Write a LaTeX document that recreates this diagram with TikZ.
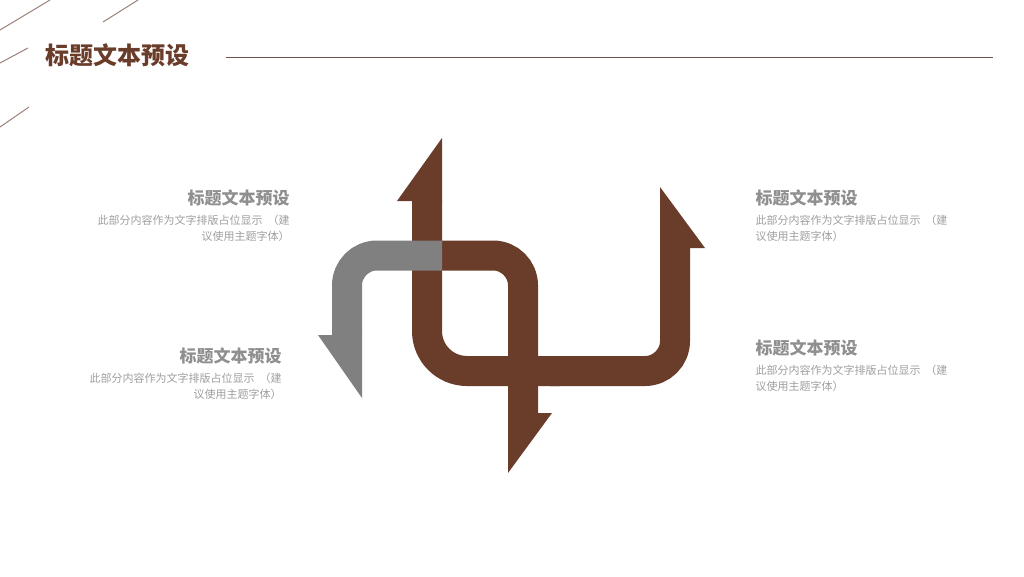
\documentclass[tikz,border=0pt]{standalone}
\usepackage{fontspec}
\setmainfont{Noto Sans CJK SC}
\newlength{\du}
\setlength{\du}{1\unitlength}
\definecolor{headgray}{rgb}{0.560000, 0.560000, 0.560000}
\definecolor{bodygray}{rgb}{0.620000, 0.620000, 0.620000}
\definecolor{barbrown}{rgb}{0.415000, 0.235000, 0.165000}
\definecolor{bargray}{rgb}{0.500000, 0.500000, 0.500000}

\begin{document}
\begin{tikzpicture}[
  titletext/.style={inner sep=0pt, anchor=west, text=barbrown, font=\bfseries\fontsize{24}{28}\selectfont},
  headtext/.style={inner sep=0pt, text=headgray, font=\bfseries\fontsize{17}{20}\selectfont},
  bodytext/.style={inner sep=0pt, text=bodygray, font=\fontsize{11}{16}\selectfont},
  bar/.style={line width=30\du, rounded corners=30\du},
]
\pgftransformxscale{1.000000}
\pgftransformyscale{-1.000000}
\useasboundingbox (0\du,0\du) rectangle (1024\du,576\du);
% corner strokes
\definecolor{dialinecolor}{rgb}{0.600000, 0.500000, 0.470000}
\pgfsetstrokecolor{dialinecolor}
\pgfsetlinewidth{1.000000\du}
\draw (0.000000\du,30.000000\du)--(50.000000\du,0.000000\du);
\draw (103.000000\du,22.000000\du)--(138.000000\du,0.000000\du);
\draw (0.000000\du,63.000000\du)--(28.000000\du,48.000000\du);
\draw (0.000000\du,127.000000\du)--(29.000000\du,107.000000\du);
% title and rule
\node[titletext] (title) at (45.000000\du,55.000000\du){标题文本预设};
\definecolor{dialinecolor}{rgb}{0.450000, 0.330000, 0.290000}
\pgfsetstrokecolor{dialinecolor}
\draw (226.000000\du,57.000000\du)--(993.000000\du,57.000000\du);
% brown loop, up arrow and right arrow
\definecolor{dialinecolor}{rgb}{0.415000, 0.235000, 0.165000}
\pgfsetstrokecolor{dialinecolor}
\pgfsetfillcolor{dialinecolor}
\draw[bar, rounded corners=40\du] (427.000000\du,200.000000\du)--(427.000000\du,371.000000\du)--(560.000000\du,371.000000\du);
\draw[bar] (550.000000\du,371.000000\du)--(675.000000\du,371.000000\du)--(675.000000\du,247.000000\du);
\fill (442.000000\du,138.000000\du)--(397.000000\du,201.000000\du)--(442.000000\du,201.000000\du)--cycle;
\fill (660.000000\du,187.000000\du)--(705.000000\du,248.000000\du)--(660.000000\du,248.000000\du)--cycle;
% brown hook and down arrow
\draw[bar] (430.000000\du,255.500000\du)--(523.000000\du,255.500000\du)--(523.000000\du,414.000000\du);
\fill (508.000000\du,473.000000\du)--(552.000000\du,413.000000\du)--(508.000000\du,413.000000\du)--cycle;
% gray hook and left arrow
\definecolor{dialinecolor}{rgb}{0.500000, 0.500000, 0.500000}
\pgfsetstrokecolor{dialinecolor}
\pgfsetfillcolor{dialinecolor}
\draw[bar] (442.000000\du,255.500000\du)--(347.000000\du,255.500000\du)--(347.000000\du,336.000000\du);
\fill (362.000000\du,398.000000\du)--(318.000000\du,335.000000\du)--(362.000000\du,335.000000\du)--cycle;
% texts
\node[headtext, anchor=east] (headlt) at (290.000000\du,198.000000\du){标题文本预设};
\node[bodytext, anchor=north east, align=right] (bodylt) at (290.000000\du,215.000000\du){此部分内容作为文字排版占位显示\ \ （建\\议使用主题字体）};
\node[headtext, anchor=east] (headlb) at (282.000000\du,356.000000\du){标题文本预设};
\node[bodytext, anchor=north east, align=right] (bodylb) at (282.000000\du,373.000000\du){此部分内容作为文字排版占位显示\ \ （建\\议使用主题字体）};
\node[headtext, anchor=west] (headrt) at (755.000000\du,198.000000\du){标题文本预设};
\node[bodytext, anchor=north west, align=left] (bodyrt) at (755.000000\du,215.000000\du){此部分内容作为文字排版占位显示\ \ （建\\议使用主题字体）};
\node[headtext, anchor=west] (headrb) at (755.000000\du,348.000000\du){标题文本预设};
\node[bodytext, anchor=north west, align=left] (bodyrb) at (755.000000\du,365.000000\du){此部分内容作为文字排版占位显示\ \ （建\\议使用主题字体）};
\end{tikzpicture}
\end{document}
